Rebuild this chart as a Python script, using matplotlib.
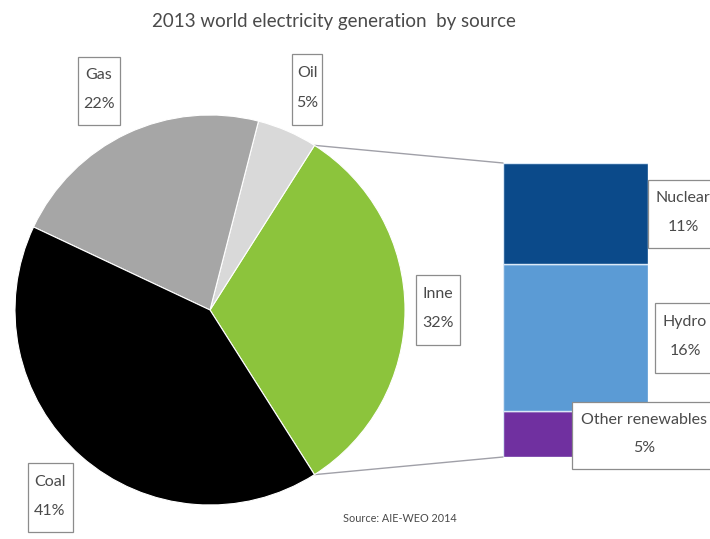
import matplotlib.pyplot as plt
import numpy as np
from matplotlib.patches import Rectangle, ConnectionPatch

W, H = 710, 539

pie_labels = ["Inne", "Oil", "Gas", "Coal"]
pie_values = [32, 5, 22, 41]
pie_colors = ["#8cc43c", "#d9d9d9", "#a6a6a6", "#000000"]

bar_labels = ["Other renewables", "Hydro", "Nuclear"]
bar_values = [5, 16, 11]
bar_colors = ["#7030a0", "#5b9bd5", "#0b4a8a"]

TEXT = "#4a4a4a"
plt.rcParams["font.family"] = ["Lato", "DejaVu Sans"]

fig = plt.figure(figsize=(W / 100, H / 100), dpi=100)

# stacked bar for the "Inne" slice (drawn underneath the label layer)
bx0, bx1, by0, by1 = 503, 648, 163, 457
bax = fig.add_axes([bx0 / W, (H - by1) / H, (bx1 - bx0) / W, (by1 - by0) / H])
bottom = 0
for val, col in zip(bar_values, bar_colors):
    bax.bar(0.5, val, width=1.0, bottom=bottom, color=col,
            edgecolor="#dbe9f7", linewidth=1.0)
    bottom += val
bax.set_xlim(0, 1)
bax.set_ylim(0, sum(bar_values))
bax.axis("off")

ax = fig.add_axes([0, 0, 1, 1])
ax.set_zorder(2)


# pixel helpers (top-left origin)
def py(y):
    return H - y


cx, cy, r = 210, py(310), 195
start = -pie_values[0] / 100 * 360 / 2
wedges, _ = ax.pie(pie_values, colors=pie_colors, startangle=start,
                   center=(cx, cy), radius=r, counterclock=True,
                   wedgeprops=dict(edgecolor="white", linewidth=0.8))
ax.set_xlim(0, W)
ax.set_ylim(0, H)
ax.set_aspect("equal")
ax.axis("off")

# connector lines from slice edges to the bar
w = wedges[0]
for ang, ybar in [(w.theta2, sum(bar_values)), (w.theta1, 0)]:
    px = cx + r * np.cos(np.radians(ang))
    pyy = cy + r * np.sin(np.radians(ang))
    con = ConnectionPatch(xyA=(px, pyy), coordsA=ax.transData,
                          xyB=(0, ybar), coordsB=bax.transData,
                          color="#a0a0a8", linewidth=1.0)
    fig.add_artist(con)

# label boxes: (name, value, x0, y0, x1, y1, text centre x)
boxes = [
    ("Gas", "22%", 78, 57, 120, 125, 99),
    ("Oil", "5%", 292, 54, 322, 125, 307),
    ("Inne", "32%", 416, 275, 460, 345, 438),
    ("Coal", "41%", 28, 463, 73, 532, 50),
    ("Nuclear", "11%", 648, 180, 730, 248, 683),
    ("Hydro", "16%", 655, 303, 730, 373, 685),
    ("Other renewables", "5%", 572, 402, 730, 469, 644),
]
for name, val, x0, y0, x1, y1, tx in boxes:
    ax.add_patch(Rectangle((x0, py(y1)), x1 - x0, y1 - y0, facecolor="white",
                           edgecolor="#8c8c8c", linewidth=0.9, zorder=5,
                           clip_on=False))
    ax.text(tx, py(y0 + (y1 - y0) * 0.27), name, ha="center", va="center",
            fontsize=11.5, color=TEXT, zorder=6)
    ax.text(tx, py(y0 + (y1 - y0) * 0.69), val, ha="center", va="center",
            fontsize=11.5, color=TEXT, zorder=6)

ax.text(334, py(21), "2013 world electricity generation  by source",
        ha="center", va="center", fontsize=13.5, color=TEXT)
ax.text(400, py(519), "Source: AIE-WEO 2014", ha="center", va="center",
        fontsize=7.8, color=TEXT)

fig.savefig("out.png", dpi=100)
